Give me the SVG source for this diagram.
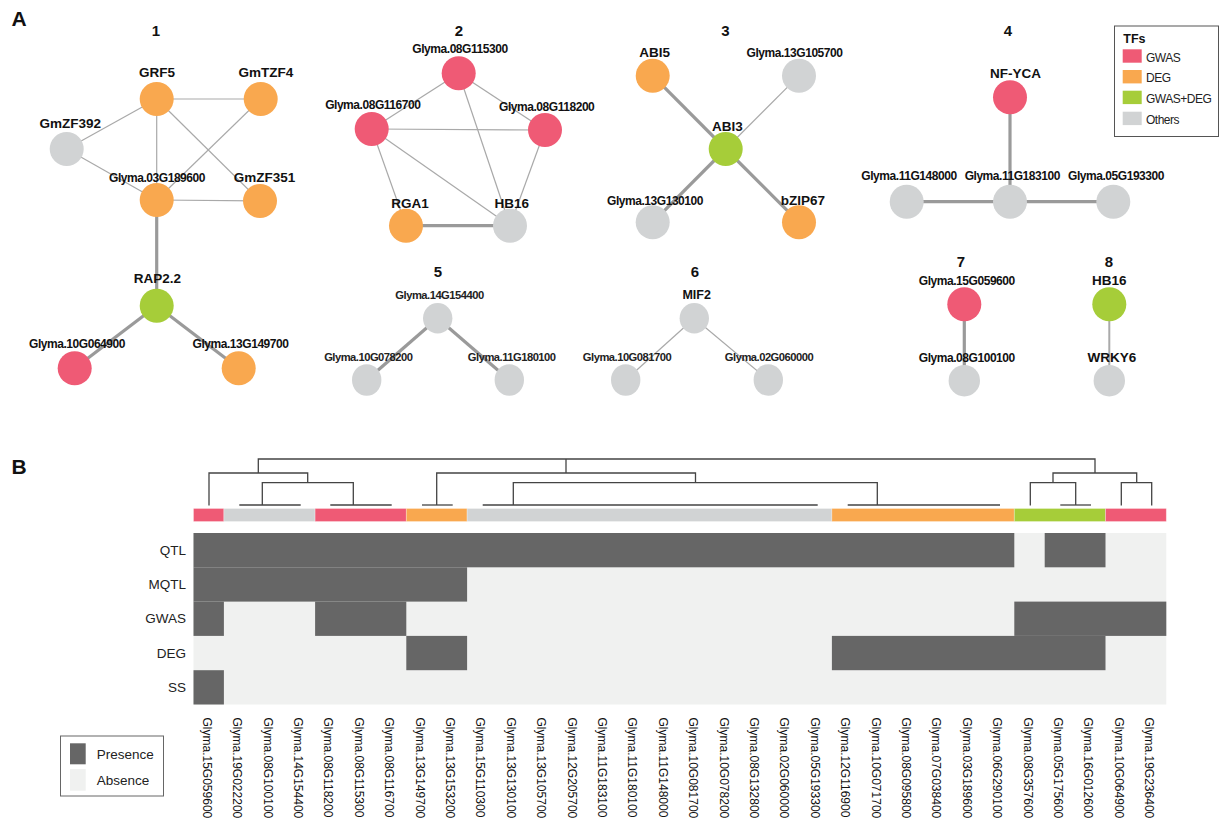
<svg xmlns="http://www.w3.org/2000/svg" width="1221" height="822" viewBox="0 0 1221 822">
<style>
text{font-family:"Liberation Sans",Arial,sans-serif;fill:#111}
.pl{font-size:21px;font-weight:bold}
.num{font-size:15px;font-weight:bold;text-anchor:middle}
.nm{font-size:13.5px;font-weight:bold;text-anchor:middle}
.gid{font-size:12px;font-weight:bold;text-anchor:middle;letter-spacing:-0.45px}
.gid2{font-size:11.2px;font-weight:bold;text-anchor:middle;letter-spacing:-0.5px;fill:#222}
.thin{stroke:#a9a9a9;stroke-width:1.2;fill:none}
.thick{stroke:#9a9a9a;stroke-width:3.2;fill:none}
.med{stroke:#aaaaaa;stroke-width:2;fill:none}
.r{fill:#ef5a75}.o{fill:#f9a84f}.g{fill:#a6cd39}.x{fill:#d1d3d4}
.leg{font-size:12px;letter-spacing:-0.5px;fill:#222}
.row{font-size:13.5px;text-anchor:end;fill:#222}
.col{font-size:12px;fill:#222}
.dg{stroke:#444;stroke-width:1.3;fill:none}
.band rect{stroke:#fff;stroke-opacity:0.35;stroke-width:0.8}
</style>

<text class="pl" x="11.5" y="26">A</text>
<text class="pl" x="11.5" y="474">B</text>

<!-- Connectors -->
<g id="connectors">
  <line class="thin" x1="156.7" y1="99" x2="260.7" y2="99"/>
  <line class="thin" x1="156.7" y1="99" x2="66.7" y2="149"/>
  <line class="thin" x1="156.7" y1="99" x2="156.7" y2="200"/>
  <line class="thin" x1="156.7" y1="99" x2="260" y2="201"/>
  <line class="thin" x1="260.7" y1="99" x2="156.7" y2="200"/>
  <line class="thin" x1="66.7" y1="149" x2="156.7" y2="200"/>
  <line class="thin" x1="156.7" y1="200" x2="260" y2="201"/>
  <line class="thick" x1="156.7" y1="200" x2="156.7" y2="305.7"/>
  <line class="thick" x1="156.7" y1="305.7" x2="74.7" y2="368.3"/>
  <line class="thick" x1="156.7" y1="305.7" x2="238.7" y2="368.3"/>

  <line class="thin" x1="458.7" y1="73.3" x2="371.7" y2="129"/>
  <line class="thin" x1="458.7" y1="73.3" x2="545" y2="130"/>
  <line class="thin" x1="458.7" y1="73.3" x2="510" y2="225.7"/>
  <line class="thin" x1="371.7" y1="129" x2="545" y2="130"/>
  <line class="thin" x1="371.7" y1="129" x2="406" y2="225.7"/>
  <line class="thin" x1="371.7" y1="129" x2="510" y2="225.7"/>
  <line class="thin" x1="545" y1="130" x2="510" y2="225.7"/>
  <line class="thick" x1="406" y1="225.7" x2="510" y2="225.7"/>

  <line class="thick" x1="725.7" y1="149" x2="652.7" y2="75.7"/>
  <line class="thin" x1="725.7" y1="149" x2="799" y2="75.7"/>
  <line class="thick" x1="725.7" y1="149" x2="652.7" y2="222.3"/>
  <line class="thick" x1="725.7" y1="149" x2="799" y2="222.3"/>

  <line class="thick" x1="1010" y1="97.3" x2="1010" y2="201.7"/>
  <line class="thick" x1="906.7" y1="201.7" x2="1113.3" y2="201.7"/>

  <line class="thick" x1="437.7" y1="318.3" x2="366.7" y2="380"/>
  <line class="thick" x1="437.7" y1="318.3" x2="509.3" y2="380"/>

  <line class="thin" x1="694.3" y1="318.3" x2="625.7" y2="380"/>
  <line class="thin" x1="694.3" y1="318.3" x2="768.3" y2="380"/>

  <line class="thick" x1="964.3" y1="304.3" x2="964.3" y2="380.7"/>
  <line class="med" x1="1109.3" y1="304.3" x2="1109.3" y2="380.7"/>
</g>

<!-- Panel numbers -->
<text class="num" x="156" y="36">1</text>
<text class="num" x="459" y="36">2</text>
<text class="num" x="725.5" y="36">3</text>
<text class="num" x="1008" y="35.5">4</text>
<text class="num" x="438" y="277">5</text>
<text class="num" x="695" y="277">6</text>
<text class="num" x="961" y="267">7</text>
<text class="num" x="1109" y="267">8</text>

<!-- Network 1 -->
<g id="n-GRF5"><circle class="o" cx="156.7" cy="99" r="17"/><text class="nm" x="157" y="77">GRF5</text></g>
<g id="n-GmTZF4"><circle class="o" cx="260.7" cy="99" r="17"/><text class="nm" x="266" y="77">GmTZF4</text></g>
<g id="n-GmZF392"><circle class="x" cx="66.7" cy="149" r="17"/><text class="nm" x="70.3" y="127.5">GmZF392</text></g>
<g id="n-Glyma03G189600"><circle class="o" cx="156.7" cy="200" r="17"/><text class="gid" x="157" y="181.5">Glyma.03G189600</text></g>
<g id="n-GmZF351"><circle class="o" cx="260" cy="201" r="17"/><text class="nm" x="264.5" y="181.5">GmZF351</text></g>
<g id="n-RAP2.2"><circle class="g" cx="156.7" cy="305.7" r="17"/><text class="nm" x="157.5" y="282.5">RAP2.2</text></g>
<g id="n-Glyma10G064900"><circle class="r" cx="74.7" cy="368.3" r="17"/><text class="gid" x="77" y="348">Glyma.10G064900</text></g>
<g id="n-Glyma13G149700"><circle class="o" cx="238.7" cy="368.3" r="17"/><text class="gid" x="240.5" y="348">Glyma.13G149700</text></g>

<!-- Network 2 -->
<g id="n-Glyma08G115300"><circle class="r" cx="458.7" cy="73.3" r="17"/><text class="gid" x="460" y="53">Glyma.08G115300</text></g>
<g id="n-Glyma08G116700"><circle class="r" cx="371.7" cy="129" r="17"/><text class="gid" x="372.8" y="109">Glyma.08G116700</text></g>
<g id="n-Glyma08G118200"><circle class="r" cx="545" cy="130" r="17"/><text class="gid" x="546.7" y="110.5">Glyma.08G118200</text></g>
<g id="n-RGA1"><circle class="o" cx="406" cy="225.7" r="17"/><text class="nm" x="410" y="207.5">RGA1</text></g>
<g id="n-HB16-2"><circle class="x" cx="510" cy="225.7" r="17"/><text class="nm" x="511.8" y="207.5">HB16</text></g>

<!-- Network 3 -->
<g id="n-ABI5"><circle class="o" cx="652.7" cy="75.7" r="17"/><text class="nm" x="654.7" y="56.5">ABI5</text></g>
<g id="n-Glyma13G105700"><circle class="x" cx="799" cy="75.7" r="17"/><text class="gid" x="794.5" y="56.5">Glyma.13G105700</text></g>
<g id="n-ABI3"><circle class="g" cx="725.7" cy="149" r="17"/><text class="nm" x="727.5" y="130.5">ABI3</text></g>
<g id="n-Glyma13G130100"><circle class="x" cx="652.7" cy="222.3" r="17"/><text class="gid" x="655" y="205">Glyma.13G130100</text></g>
<g id="n-bZIP67"><circle class="o" cx="799" cy="222.3" r="17"/><text class="nm" x="803" y="205">bZIP67</text></g>

<!-- Network 4 -->
<g id="n-NF-YCA"><circle class="r" cx="1010" cy="97.3" r="17"/><text class="nm" x="1015.5" y="78">NF-YCA</text></g>
<g id="n-Glyma11G148000"><circle class="x" cx="906.7" cy="201.7" r="17"/><text class="gid" x="909" y="180">Glyma.11G148000</text></g>
<g id="n-Glyma11G183100"><circle class="x" cx="1010" cy="201.7" r="17"/><text class="gid" x="1012.3" y="180">Glyma.11G183100</text></g>
<g id="n-Glyma05G193300"><circle class="x" cx="1113.3" cy="201.7" r="17"/><text class="gid" x="1116" y="180">Glyma.05G193300</text></g>

<!-- Network 5 -->
<g id="n-Glyma14G154400"><ellipse class="x" cx="437.7" cy="318.3" rx="14.7" ry="15.3"/><text class="gid2" x="439.5" y="298.5">Glyma.14G154400</text></g>
<g id="n-Glyma10G078200"><ellipse class="x" cx="366.7" cy="380" rx="14.7" ry="15.8"/><text class="gid2" x="368.3" y="361">Glyma.10G078200</text></g>
<g id="n-Glyma11G180100"><ellipse class="x" cx="509.3" cy="380" rx="14.7" ry="15.8"/><text class="gid2" x="511.7" y="361">Glyma.11G180100</text></g>

<!-- Network 6 -->
<g id="n-MIF2"><ellipse class="x" cx="694.3" cy="318.3" rx="14.7" ry="15.3"/><text class="nm" x="696.7" y="298.5" style="font-size:12.5px">MIF2</text></g>
<g id="n-Glyma10G081700"><ellipse class="x" cx="625.7" cy="380" rx="14.7" ry="15.8"/><text class="gid2" x="627" y="361">Glyma.10G081700</text></g>
<g id="n-Glyma02G060000"><ellipse class="x" cx="768.3" cy="380" rx="14.7" ry="15.8"/><text class="gid2" x="769" y="361">Glyma.02G060000</text></g>

<!-- Network 7 -->
<g id="n-Glyma15G059600"><circle class="r" cx="964.3" cy="304.3" r="17"/><text class="gid" x="966.8" y="285">Glyma.15G059600</text></g>
<g id="n-Glyma08G100100"><circle class="x" cx="964.3" cy="380.7" r="15.7"/><text class="gid" x="966.8" y="361.5">Glyma.08G100100</text></g>

<!-- Network 8 -->
<g id="n-HB16-8"><circle class="g" cx="1109.3" cy="304.3" r="17"/><text class="nm" x="1109.3" y="285">HB16</text></g>
<g id="n-WRKY6"><circle class="x" cx="1109.3" cy="380.7" r="15.7"/><text class="nm" x="1112" y="361.5">WRKY6</text></g>

<!-- TF legend -->
<g id="legend-tfs">
  <rect x="1114.5" y="26" width="104" height="110.5" fill="#fff" stroke="#555" stroke-width="1"/>
  <text x="1123.3" y="43.3" style="font-size:12.5px;font-weight:bold">TFs</text>
  <rect class="r" x="1122.7" y="49.3" width="19" height="13.4"/>
  <rect class="o" x="1122.7" y="70" width="19" height="13.4"/>
  <rect class="g" x="1122.7" y="90.7" width="19" height="13.4"/>
  <rect class="x" x="1122.7" y="111.7" width="19" height="13.4"/>
  <text class="leg" x="1146" y="61.5">GWAS</text>
  <text class="leg" x="1146" y="82.3">DEG</text>
  <text class="leg" x="1146" y="103">GWAS+DEG</text>
  <text class="leg" x="1146" y="124">Others</text>
</g>

<!-- Dendrogram -->
<g id="dendrogram">
  <path class="dg" d="M258.3 473V459H1095V473"/>
  <path class="dg" d="M566 459V473"/>
  <path class="dg" d="M209 505.5V473H307.7V482.7"/>
  <path class="dg" d="M262.3 505V482.7H353.3V505"/>
  <path class="dg" d="M239.3 505H300.7M330.3 505H391.7"/>
  <path class="dg" d="M436.7 505V473H695.5V482.7"/>
  <path class="dg" d="M422 505H452.7"/>
  <path class="dg" d="M513.3 505V482.7H877.3V505"/>
  <path class="dg" d="M482.7 505H817.7M847.7 505H1000"/>
  <path class="dg" d="M1053 482.7V473H1136.7V482.7"/>
  <path class="dg" d="M1030.3 505.5V482.7H1075.7V505"/>
  <path class="dg" d="M1060.3 505H1091"/>
  <path class="dg" d="M1121.3 505.5V482.7H1151.7V505.5"/>
</g>

<!-- Colour band -->
<g id="band" class="band">
  <rect class="r" x="193.5" y="508.5" width="30.4" height="13"/>
  <rect class="x" x="223.9" y="508.5" width="91.2" height="13"/>
  <rect class="r" x="315.1" y="508.5" width="91.2" height="13"/>
  <rect class="o" x="406.3" y="508.5" width="60.8" height="13"/>
  <rect class="x" x="467.1" y="508.5" width="364.8" height="13"/>
  <rect class="o" x="831.9" y="508.5" width="182.4" height="13"/>
  <rect class="g" x="1014.3" y="508.5" width="91.2" height="13"/>
  <rect class="r" x="1105.5" y="508.5" width="60.8" height="13"/>
</g>

<!-- Heatmap -->
<g id="heatmap">
  <rect x="193.5" y="533" width="972.8" height="171.5" fill="#f0f1f0"/>
  <g fill="#666666">
    <rect x="193.5" y="533" width="820.8" height="34.3"/>
    <rect x="1044.7" y="533" width="60.8" height="34.3"/>
    <rect x="193.5" y="567.3" width="273.6" height="34.3"/>
    <rect x="193.5" y="601.6" width="30.4" height="34.3"/>
    <rect x="315.1" y="601.6" width="91.2" height="34.3"/>
    <rect x="1014.3" y="601.6" width="152" height="34.3"/>
    <rect x="406.3" y="635.9" width="60.8" height="34.3"/>
    <rect x="831.9" y="635.9" width="273.6" height="34.3"/>
    <rect x="193.5" y="670.2" width="30.4" height="34.3"/>
  </g>
  <text class="row" x="186" y="554.7">QTL</text>
  <text class="row" x="186" y="589">MQTL</text>
  <text class="row" x="186" y="623.3">GWAS</text>
  <text class="row" x="186" y="657.6">DEG</text>
  <text class="row" x="186" y="691.9">SS</text>
</g>

<!-- Column labels -->
<g id="col-labels" class="col">
  <text transform="translate(202.7,717.5) rotate(90)">Glyma.15G059600</text>
  <text transform="translate(233.1,717.5) rotate(90)">Glyma.19G022200</text>
  <text transform="translate(263.5,717.5) rotate(90)">Glyma.08G100100</text>
  <text transform="translate(293.9,717.5) rotate(90)">Glyma.14G154400</text>
  <text transform="translate(324.3,717.5) rotate(90)">Glyma.08G118200</text>
  <text transform="translate(354.7,717.5) rotate(90)">Glyma.08G115300</text>
  <text transform="translate(385.1,717.5) rotate(90)">Glyma.08G116700</text>
  <text transform="translate(415.5,717.5) rotate(90)">Glyma.13G149700</text>
  <text transform="translate(445.9,717.5) rotate(90)">Glyma.13G153200</text>
  <text transform="translate(476.3,717.5) rotate(90)">Glyma.15G110300</text>
  <text transform="translate(506.7,717.5) rotate(90)">Glyma.13G130100</text>
  <text transform="translate(537.1,717.5) rotate(90)">Glyma.13G105700</text>
  <text transform="translate(567.5,717.5) rotate(90)">Glyma.12G205700</text>
  <text transform="translate(597.9,717.5) rotate(90)">Glyma.11G183100</text>
  <text transform="translate(628.3,717.5) rotate(90)">Glyma.11G180100</text>
  <text transform="translate(658.7,717.5) rotate(90)">Glyma.11G148000</text>
  <text transform="translate(689.1,717.5) rotate(90)">Glyma.10G081700</text>
  <text transform="translate(719.5,717.5) rotate(90)">Glyma.10G078200</text>
  <text transform="translate(749.9,717.5) rotate(90)">Glyma.08G132800</text>
  <text transform="translate(780.3,717.5) rotate(90)">Glyma.02G060000</text>
  <text transform="translate(810.7,717.5) rotate(90)">Glyma.05G193300</text>
  <text transform="translate(841.1,717.5) rotate(90)">Glyma.12G116900</text>
  <text transform="translate(871.5,717.5) rotate(90)">Glyma.10G071700</text>
  <text transform="translate(901.9,717.5) rotate(90)">Glyma.08G095800</text>
  <text transform="translate(932.3,717.5) rotate(90)">Glyma.07G038400</text>
  <text transform="translate(962.7,717.5) rotate(90)">Glyma.03G189600</text>
  <text transform="translate(993.1,717.5) rotate(90)">Glyma.06G290100</text>
  <text transform="translate(1023.5,717.5) rotate(90)">Glyma.08G357600</text>
  <text transform="translate(1053.9,717.5) rotate(90)">Glyma.05G175600</text>
  <text transform="translate(1084.3,717.5) rotate(90)">Glyma.16G012600</text>
  <text transform="translate(1114.7,717.5) rotate(90)">Glyma.10G064900</text>
  <text transform="translate(1145.1,717.5) rotate(90)">Glyma.19G236400</text>
</g>

<!-- Presence / Absence legend -->
<g id="legend-heat">
  <rect x="60.5" y="736" width="103" height="60" fill="#fff" stroke="#666" stroke-width="1"/>
  <rect x="70" y="743.3" width="15.7" height="21" fill="#666666"/>
  <rect x="70" y="769" width="15.7" height="21.7" fill="#f0f1f0"/>
  <text x="96.7" y="759" style="font-size:13.5px;fill:#222">Presence</text>
  <text x="96.7" y="785" style="font-size:13.5px;fill:#222">Absence</text>
</g>
</svg>
